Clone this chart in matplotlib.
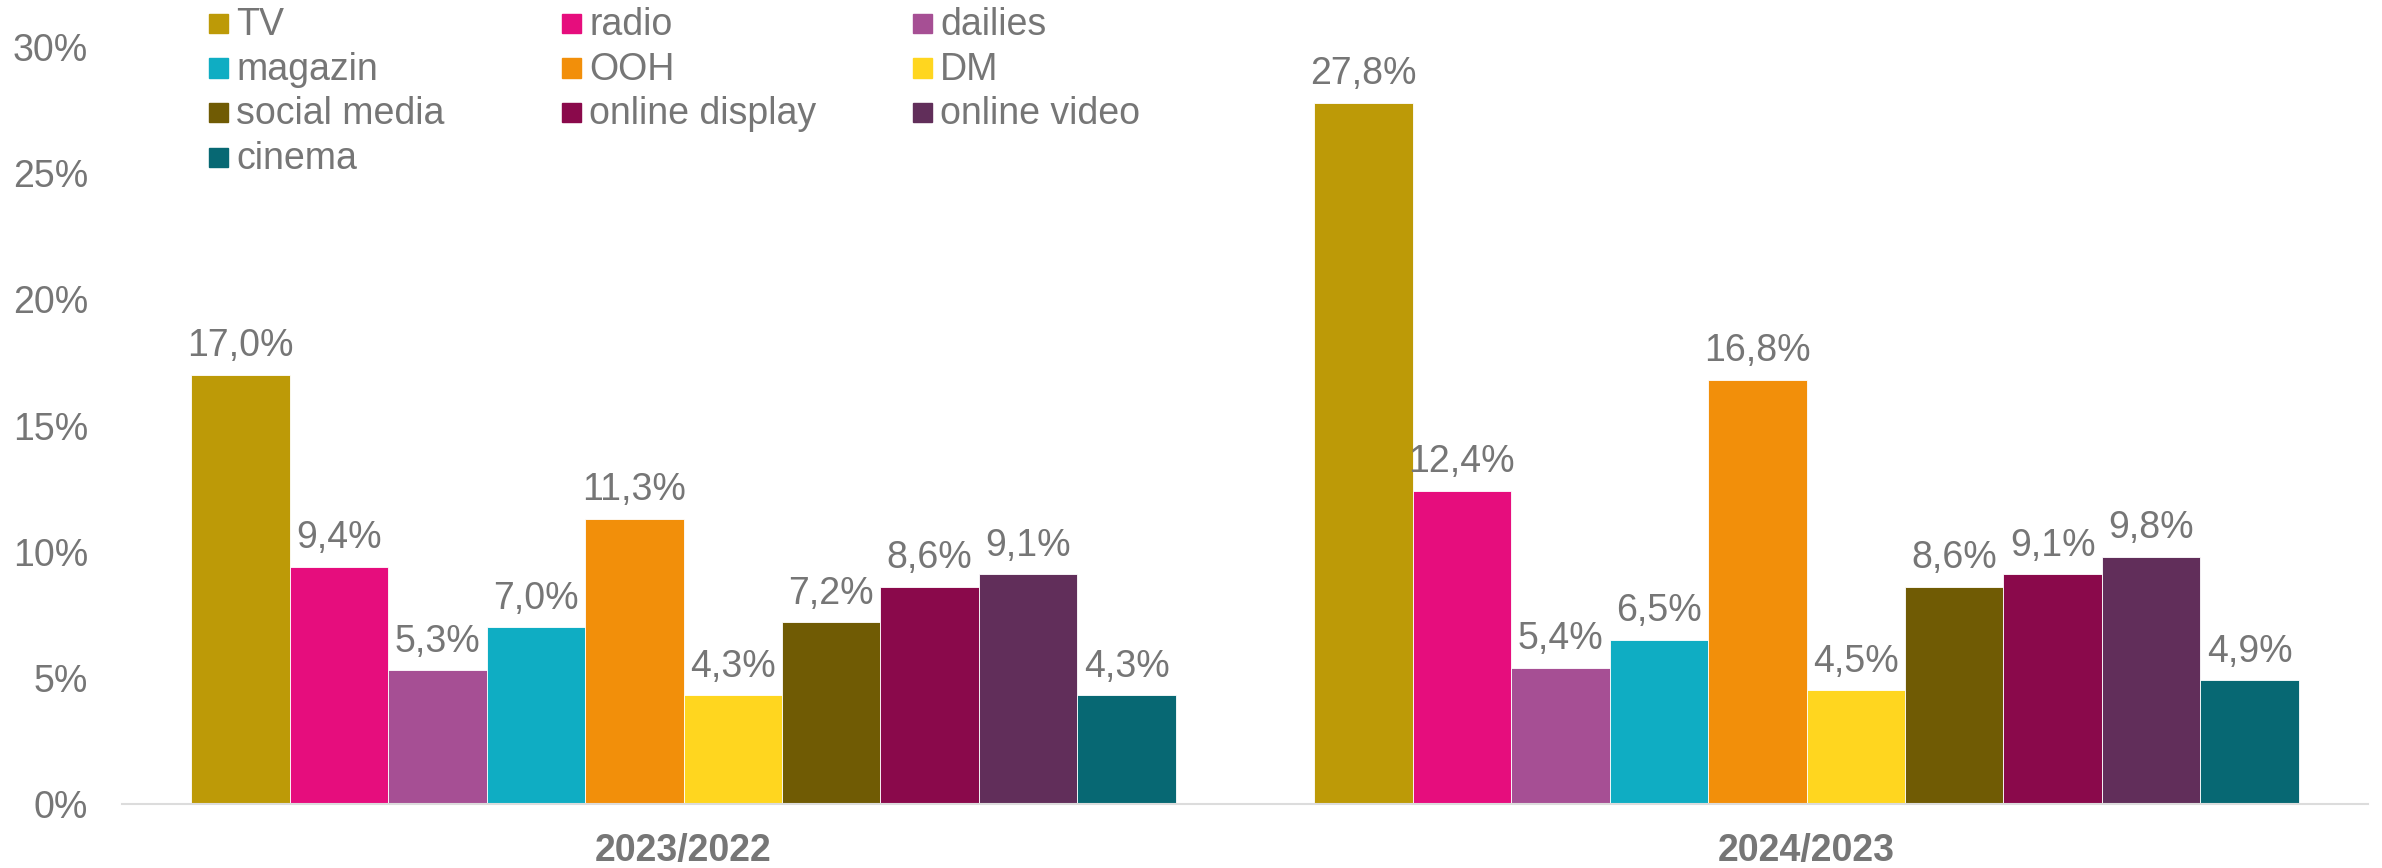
import numpy as np
import matplotlib
matplotlib.use('Agg')
import matplotlib.pyplot as plt
from matplotlib.patches import Rectangle

plt.rcParams['font.family'] = ['Liberation Sans', 'DejaVu Sans']

# growth per media type, two periods
periods = ['2023/2022', '2024/2023']
media = ['TV', 'radio', 'dailies', 'magazin', 'OOH', 'DM',
         'social media', 'online display', 'online video', 'cinema']
growth_2023 = [17.0, 9.4, 5.3, 7.0, 11.3, 4.3, 7.2, 8.6, 9.1, 4.3]
growth_2024 = [27.8, 12.4, 5.4, 6.5, 16.8, 4.5, 8.6, 9.1, 9.8, 4.9]
yticks = [0, 5, 10, 15, 20, 25, 30]

colors = ['#BD9A07', '#E60D7D', '#A64F94', '#0FADC3', '#F28F0A',
          '#FFD61F', '#705B04', '#8A094B', '#612E5A', '#076873']
grey = '#767676'
FS = 27

W, H = 2382, 868
fig = plt.figure(figsize=(W / 100, H / 100), dpi=100)
ax = fig.add_axes([122 / W, 64 / H, (2368 - 122) / W, (804 - 47) / H])

values = np.array([growth_2023, growth_2024])
x = np.arange(len(periods))
w = 0.0877
for i, name in enumerate(media):
    xs = x + (i - 4.5) * w
    vals = values[:, i]
    ax.bar(xs, vals, width=w, color=colors[i], edgecolor='white', linewidth=0.6, label=name)
    for xi, v in zip(xs, vals):
        ax.annotate(f'{v:.1f}%'.replace('.', ','), (xi, v), xytext=(0, 13.5),
                    textcoords='offset points', ha='center', va='baseline',
                    fontsize=FS, color=grey)

ax.set_xlim(-0.5, 1.5)
ax.set_ylim(0, 30)
ax.set_yticks(yticks)
ax.set_yticklabels([f'{t}%' for t in yticks])
ax.set_xticks(x)
ax.set_xticklabels(periods, fontweight='bold')
ax.tick_params(axis='y', length=0, pad=24.5, labelsize=FS, labelcolor=grey)
ax.tick_params(axis='x', length=0, pad=21, labelsize=FS, labelcolor=grey)
for s in ['top', 'right', 'left']:
    ax.spines[s].set_visible(False)
ax.spines['bottom'].set_color('#dcdcdc')
ax.spines['bottom'].set_linewidth(1.5)

# legend laid out row by row, three columns
col_x = [209, 562, 913]
row_top = [14, 58.5, 103, 148]
for i, name in enumerate(media):
    r, c = divmod(i, 3)
    px, py = col_x[c], row_top[r]
    fig.patches.append(Rectangle((px / W, 1 - (py + 19) / H), 19 / W, 19 / H,
                                 transform=fig.transFigure, color=colors[i]))
    fig.text((px + 27) / W, 1 - (py + 21) / H, name, fontsize=FS, color=grey,
             ha='left', va='baseline')

fig.savefig('out.png', dpi=100)
